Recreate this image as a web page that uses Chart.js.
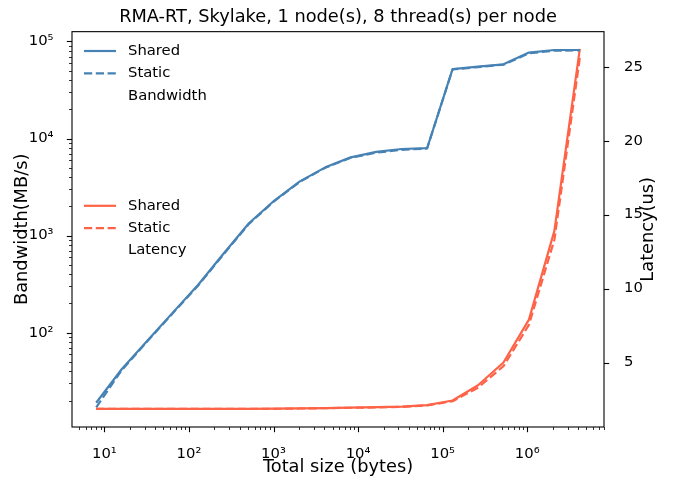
<!DOCTYPE html>
<html lang="en">
<head>
    <meta charset="UTF-8">
    <title>RMA-RT, Skylake</title>
    <script src="https://cdn.jsdelivr.net/npm/chart.js"></script>
    <style>
        body { margin: 0; background: #fff; }
        #wrap { width: 684px; height: 483px; }
    </style>
</head>
<body>
    <div id="wrap"><canvas id="rmaChart" width="684" height="483"></canvas></div>

    <script>
        // message sizes in bytes
        const sizes = [8, 16, 32, 64, 128, 256, 512, 1024, 2048, 4096, 8192, 16384,
            32768, 65536, 131072, 262144, 524288, 1048576, 2097152, 4194304];

        // bandwidth, MB/s
        const bwShared = [19, 42, 82, 160, 310, 650, 1340, 2300, 3620, 5050, 6400, 7300,
            7800, 7950, 52000, 55000, 58200, 76800, 81700, 81700];
        const bwStatic = [17, 41, 81, 158, 305, 640, 1320, 2270, 3580, 5000, 6350, 7150,
            7650, 7900, 51500, 54500, 57700, 75500, 80500, 80800];

        // latency, us
        const latShared = [1.86, 1.86, 1.86, 1.86, 1.86, 1.86, 1.86, 1.88, 1.9, 1.92, 1.95, 1.98,
            2.02, 2.12, 2.43, 3.46, 5.0, 7.9, 13.9, 26.2];
        const latStatic = [1.86, 1.86, 1.86, 1.86, 1.86, 1.86, 1.86, 1.87, 1.89, 1.91, 1.94, 1.96,
            2.0, 2.1, 2.38, 3.3, 4.75, 7.55, 13.3, 25.6];

        const xTicks = [10, 100, 1000, 10000, 100000, 1000000];
        const bwTicks = [100, 1000, 10000, 100000];
        const latTicks = [5, 10, 15, 20, 25];

        const BLUE = '#4682b4';
        const RED = '#ff6347';
        const DASH = [8.2, 3.6];
        const FONT = "'DejaVu Sans', sans-serif";
        const SMALL = 14.8;
        const BIG = 17.8;

        const supDigits = {'0':'⁰','1':'¹','2':'²','3':'³','4':'⁴','5':'⁵','6':'⁶','7':'⁷','8':'⁸','9':'⁹','-':'⁻'};
        const pow10Label = v => '10' + String(Math.round(Math.log10(v))).split('').map(c => supDigits[c]).join('');

        const pts = ys => sizes.map((s, i) => ({x: s, y: ys[i]}));

        // matplotlib-like ticks, frame, right axis label and the two legends
        const axisDeco = {
            id: 'axisDeco',
            afterDraw(chart) {
                const {ctx, chartArea: a, scales} = chart;
                ctx.save();
                ctx.strokeStyle = '#000';

                const logMarks = sc => {
                    const out = [];
                    const e0 = Math.floor(Math.log10(sc.min)), e1 = Math.ceil(Math.log10(sc.max));
                    for (let e = e0; e <= e1; e++) {
                        for (let m = 1; m < 10; m++) {
                            const v = m * Math.pow(10, e);
                            if (v >= sc.min && v <= sc.max) out.push({v, major: m === 1});
                        }
                    }
                    return out;
                };

                logMarks(scales.x).forEach(t => {
                    const px = Math.round(scales.x.getPixelForValue(t.v)) + 0.5;
                    ctx.lineWidth = t.major ? 1.1 : 0.8;
                    ctx.beginPath();
                    ctx.moveTo(px, a.bottom);
                    ctx.lineTo(px, a.bottom + (t.major ? 5.2 : 3));
                    ctx.stroke();
                });
                logMarks(scales.y).forEach(t => {
                    const py = Math.round(scales.y.getPixelForValue(t.v)) + 0.5;
                    ctx.lineWidth = t.major ? 1.1 : 0.8;
                    ctx.beginPath();
                    ctx.moveTo(a.left, py);
                    ctx.lineTo(a.left - (t.major ? 5.2 : 3), py);
                    ctx.stroke();
                });
                latTicks.forEach(v => {
                    const py = Math.round(scales.y1.getPixelForValue(v)) + 0.5;
                    ctx.lineWidth = 1.1;
                    ctx.beginPath();
                    ctx.moveTo(a.right, py);
                    ctx.lineTo(a.right + 5.2, py);
                    ctx.stroke();
                });

                ctx.lineWidth = 1.1;
                ctx.strokeRect(a.left, a.top, a.right - a.left, a.bottom - a.top);

                // right axis label, reading bottom to top
                ctx.save();
                ctx.translate(648.5, (a.top + a.bottom) / 2);
                ctx.rotate(-Math.PI / 2);
                ctx.font = BIG + 'px ' + FONT;
                ctx.fillStyle = '#000';
                ctx.textAlign = 'center';
                ctx.textBaseline = 'middle';
                ctx.fillText('Latency(us)', 0, 0);
                ctx.restore();

                const legend = (y0, color, title) => {
                    const rows = [
                        {label: 'Shared', dash: []},
                        {label: 'Static', dash: DASH},
                        {label: title, dash: null}
                    ];
                    ctx.font = SMALL + 'px ' + FONT;
                    ctx.textBaseline = 'middle';
                    ctx.textAlign = 'left';
                    rows.forEach((r, i) => {
                        const y = y0 + i * 22.4;
                        if (r.dash) {
                            ctx.strokeStyle = color;
                            ctx.lineWidth = 2.2;
                            ctx.setLineDash(r.dash);
                            ctx.beginPath();
                            ctx.moveTo(84, y);
                            ctx.lineTo(116, y);
                            ctx.stroke();
                            ctx.setLineDash([]);
                        }
                        ctx.fillStyle = '#000';
                        ctx.fillText(r.label, 128, y);
                    });
                };
                legend(51, BLUE, 'Bandwidth');
                legend(205.8, RED, 'Latency');
                ctx.restore();
            }
        };

        const tickFont = {family: FONT, size: SMALL};
        const titleFont = {family: FONT, size: BIG};

        new Chart(document.getElementById('rmaChart'), {
            type: 'line',
            data: {
                datasets: [
                    {label: 'Shared', data: pts(bwShared), yAxisID: 'y', borderColor: BLUE},
                    {label: 'Static', data: pts(bwStatic), yAxisID: 'y', borderColor: BLUE, borderDash: DASH},
                    {label: 'Shared', data: pts(latShared), yAxisID: 'y1', borderColor: RED},
                    {label: 'Static', data: pts(latStatic), yAxisID: 'y1', borderColor: RED, borderDash: DASH}
                ]
            },
            options: {
                responsive: false,
                devicePixelRatio: 1,
                animation: false,
                layout: {padding: 0},
                elements: {
                    point: {radius: 0},
                    line: {borderWidth: 2.2, tension: 0, fill: false, borderJoinStyle: 'round'}
                },
                plugins: {
                    legend: {display: false},
                    tooltip: {enabled: false},
                    title: {
                        display: true,
                        fullSize: false,
                        text: 'RMA-RT, Skylake, 1 node(s), 8 thread(s) per node',
                        color: '#000',
                        font: {family: FONT, size: BIG, weight: 'normal'},
                        padding: {top: 6.6, bottom: 3.7}
                    }
                },
                scales: {
                    x: {
                        type: 'logarithmic',
                        min: 4.14,
                        max: 8.1e6,
                        grid: {display: false},
                        border: {display: false},
                        afterBuildTicks: s => { s.ticks = xTicks.map(v => ({value: v})); },
                        afterFit: s => { s.height = 56; },
                        ticks: {callback: v => pow10Label(v), font: tickFont, color: '#000',
                            padding: 10, maxRotation: 0, autoSkip: false},
                        title: {display: true, text: 'Total size (bytes)', color: '#000',
                            font: titleFont, padding: {top: 0, bottom: 5}}
                    },
                    y: {
                        type: 'logarithmic',
                        position: 'left',
                        min: 10.68,
                        max: 1.262e5,
                        grid: {display: false},
                        border: {display: false},
                        afterBuildTicks: s => { s.ticks = bwTicks.map(v => ({value: v})); },
                        afterFit: s => { s.width = 72; },
                        ticks: {callback: v => pow10Label(v), font: tickFont, color: '#000', padding: 10.5},
                        title: {display: true, text: 'Bandwidth(MB/s)', color: '#000',
                            font: titleFont, padding: {top: 12, bottom: 0}}
                    },
                    y1: {
                        type: 'linear',
                        position: 'right',
                        min: 0.64,
                        max: 27.37,
                        grid: {display: false},
                        border: {display: false},
                        afterBuildTicks: s => { s.ticks = latTicks.map(v => ({value: v})); },
                        afterFit: s => { s.width = 80; },
                        ticks: {font: tickFont, color: '#000', padding: 12},
                        title: {display: false}
                    }
                }
            },
            plugins: [axisDeco]
        });
    </script>
</body>
</html>
